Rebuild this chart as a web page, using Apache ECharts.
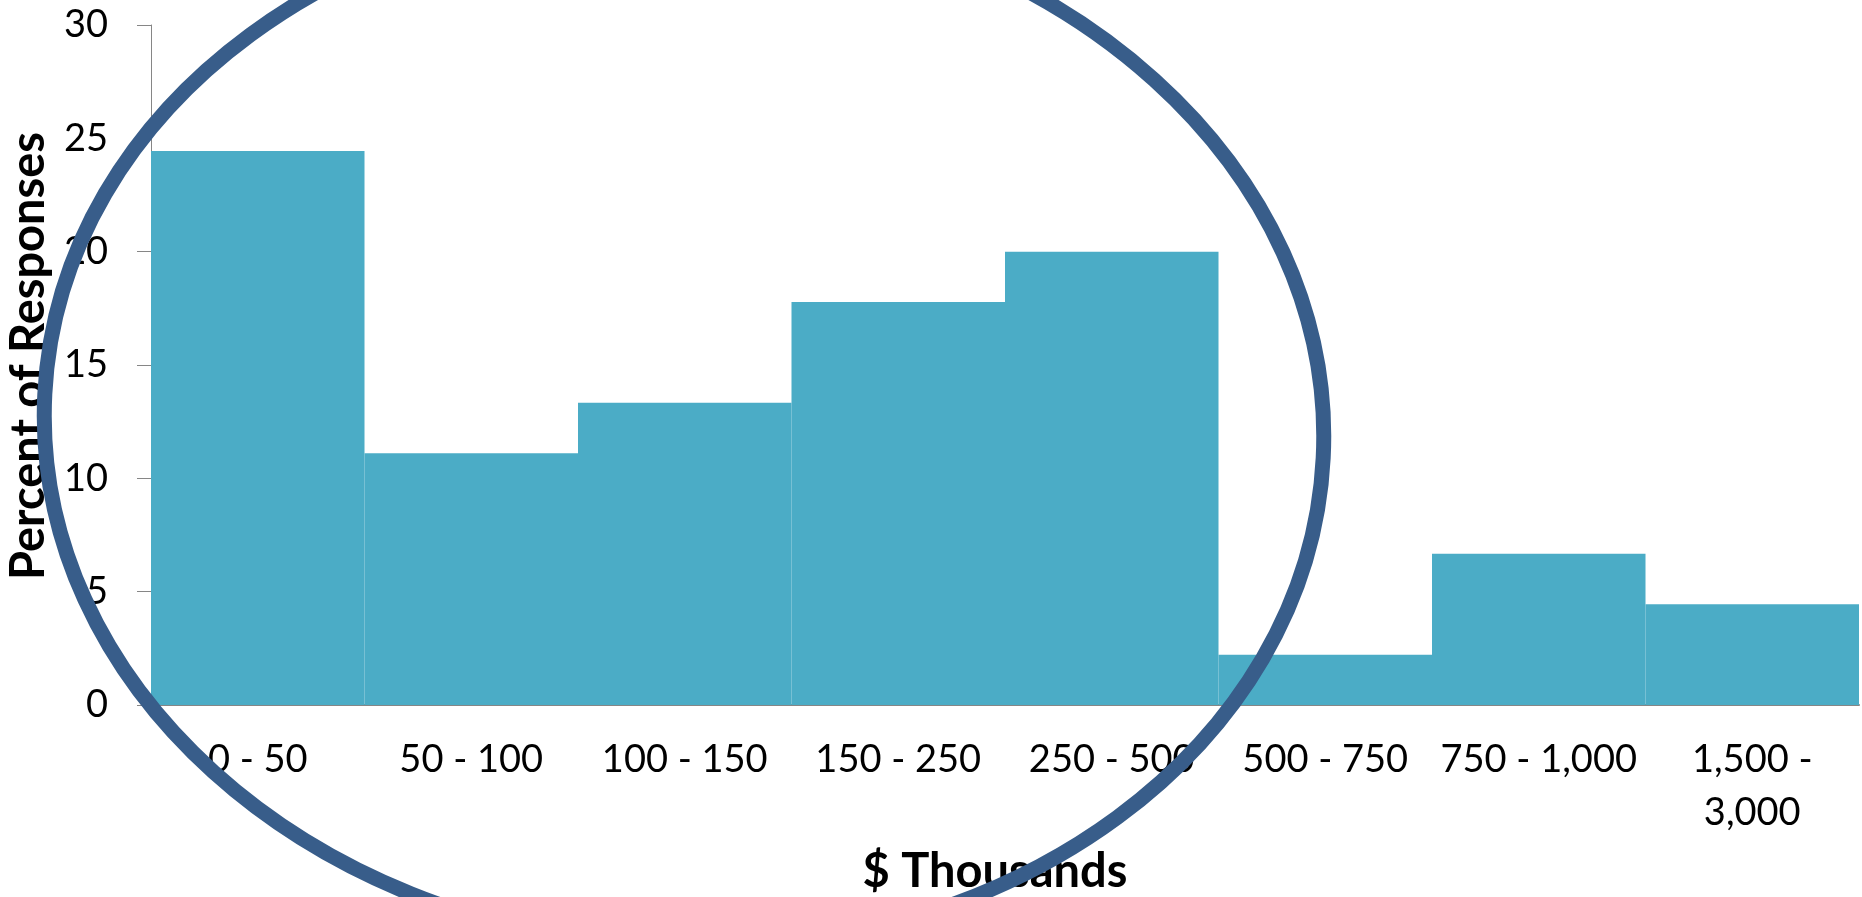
<!DOCTYPE html>
<html>
<head>
<meta charset="utf-8">
<script src="https://cdn.jsdelivr.net/npm/echarts@6/dist/echarts.min.js"></script>
<style>
html,body{margin:0;padding:0;background:#fff;}
#chart{width:1862px;height:897px;}
</style>
</head>
<body>
<div id="chart"></div>
<script>
const categories = ['0 - 50', '50 - 100', '100 - 150', '150 - 250', '250 - 500', '500 - 750', '750 - 1,000', '1,500 - 3,000'];
const percentValues = [24.44, 11.11, 13.33, 17.78, 20.0, 2.22, 6.67, 4.44];
const yTicks = [0, 5, 10, 15, 20, 25, 30];
const xTitle = '$ Thousands';
const yTitle = 'Percent of Responses';

const chart = echarts.init(document.getElementById('chart'), null, {renderer: 'canvas'});
const FONT = 'Lato';
chart.setOption({
  animation: false,
  backgroundColor: '#ffffff',
  grid: {left: 151, right: 3, top: 25, bottom: 192, containLabel: false, outerBoundsMode: 'none'},
  xAxis: {
    type: 'category',
    data: categories,
    axisLine: {show: true, lineStyle: {color: '#868686', width: 2}},
    axisTick: {show: false},
    axisLabel: {
      interval: 0,
      margin: 28,
      color: '#000',
      fontFamily: FONT,
      fontSize: 38,
      lineHeight: 53,
      formatter: v => v.replace(' - 3,', ' -\n3,')
    },
    name: xTitle,
    nameLocation: 'middle',
    nameGap: 143,
    nameTextStyle: {color: '#000', fontFamily: FONT, fontSize: 47, fontWeight: 'bold', padding: [0, 20, 0, 0]}
  },
  yAxis: {
    type: 'value',
    min: yTicks[0],
    max: yTicks[yTicks.length - 1],
    interval: 5,
    splitLine: {show: false},
    axisLine: {show: true, lineStyle: {color: '#868686', width: 1}},
    axisTick: {show: true, length: 14, lineStyle: {color: '#868686', width: 1}},
    axisLabel: {margin: 43, color: '#000', fontFamily: FONT, fontSize: 38},
    name: yTitle,
    nameLocation: 'middle',
    nameGap: 99,
    nameRotate: 90,
    nameTextStyle: {color: '#000', fontFamily: FONT, fontSize: 47, fontWeight: 'bold', padding: [0, 0, 0, 18]}
  },
  series: [{
    type: 'bar',
    data: percentValues,
    barWidth: '100%',
    barCategoryGap: '0%',
    itemStyle: {color: '#4BACC6'}
  }],
  graphic: [{
    type: 'ellipse',
    z: 100,
    silent: true,
    x: 684,
    y: 426,
    rotation: -0.05,
    shape: {cx: 0, cy: 0, rx: 640, ry: 522},
    style: {fill: 'none', stroke: '#385D8A', lineWidth: 15}
  }]
});
</script>
</body>
</html>
